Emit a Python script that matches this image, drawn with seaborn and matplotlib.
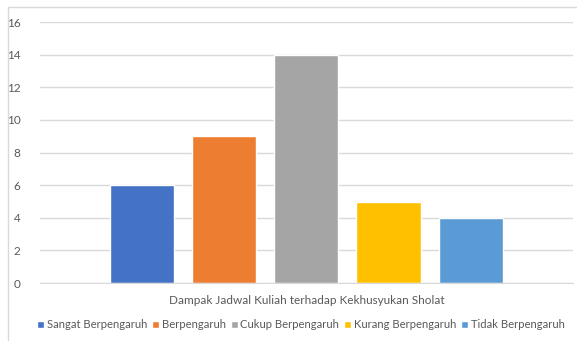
import pandas as pd
import seaborn as sns
import matplotlib.pyplot as plt
from matplotlib.patches import Rectangle

# data
kategori = ["Sangat Berpengaruh", "Berpengaruh", "Cukup Berpengaruh",
            "Kurang Berpengaruh", "Tidak Berpengaruh"]
jumlah = [6, 9, 14, 5, 4]
warna = ["#4472C4", "#ED7D31", "#A5A5A5", "#FFC000", "#5B9BD5"]
judul_x = "Dampak Jadwal Kuliah terhadap Kekhusyukan Sholat"

df = pd.DataFrame({"grup": [judul_x] * len(kategori),
                   "kategori": kategori, "jumlah": jumlah})

sns.set_style("white")
plt.rcParams["font.family"] = ["Lato", "DejaVu Sans"]

fig = plt.figure(figsize=(5.77, 3.41), dpi=100)
ax = fig.add_axes([0.069, 0.170, 0.924, 0.765])

sns.barplot(data=df, x="grup", y="jumlah", hue="kategori",
            hue_order=kategori, palette=warna, width=0.77, gap=0.22,
            saturation=1, legend=True, ax=ax)

ax.set_ylim(0, 16)
ax.set_yticks(range(0, 17, 2))
ax.set_xlim(-0.5, 0.5)
ax.yaxis.grid(True, color="#D9D9D9", linewidth=1)
ax.set_axisbelow(True)
for s in ["top", "right", "left"]:
    ax.spines[s].set_visible(False)
ax.spines["bottom"].set_color("#D9D9D9")
ax.tick_params(axis="y", length=0, labelsize=8.5, labelcolor="#595959", pad=14)
ax.tick_params(axis="x", length=0)
ax.set_xticklabels([])
ax.set_ylabel("")
ax.set_xlabel(judul_x, fontsize=8.5, color="#595959", labelpad=5)

ax.legend(loc="center", bbox_to_anchor=(0.49, -0.16), ncol=5,
          frameon=False, fontsize=8.1, handlelength=0.6, handleheight=0.6,
          handletextpad=0.25, columnspacing=0.45, labelcolor="#595959",
          borderaxespad=0, borderpad=0)

# thin chart-area frame
fig.patches.append(Rectangle((8 / 577, -0.01), 1.0, 1.0 - 7 / 341 + 0.01,
                             transform=fig.transFigure, fill=False,
                             edgecolor="#D9D9D9", linewidth=1))

fig.savefig("out.png", dpi=100)
